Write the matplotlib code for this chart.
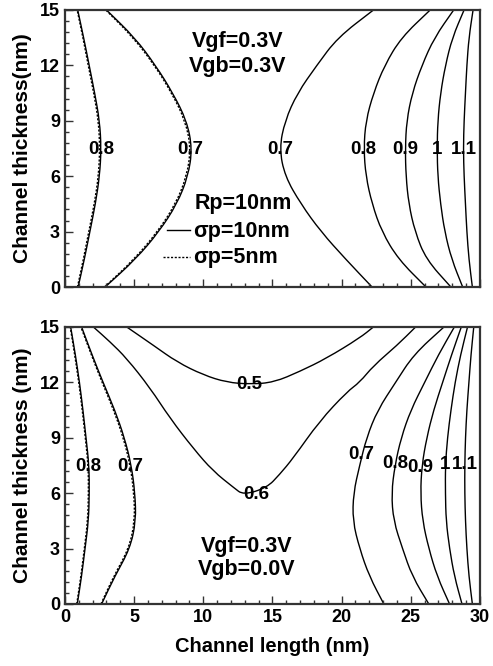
import matplotlib
matplotlib.use("Agg")
import matplotlib.pyplot as plt
from matplotlib.path import Path
from matplotlib.patches import PathPatch

plt.rcParams['font.family'] = ['Liberation Sans', 'DejaVu Sans']
plt.rcParams['font.weight'] = 'bold'

# common thickness samples (nm) for the contour lines x(y)
ys = [0, 1.5, 3, 4.5, 6, 7.5, 9, 10.5, 12, 13.5, 15]

# top panel: Vgf=0.3V, Vgb=0.3V  (x positions along channel length)
top_curves = {
    "0.8a": [0.95, 1.4, 1.8, 2.2, 2.5, 2.62, 2.5, 2.15, 1.75, 1.35, 0.92],
    "0.7a": [2.9, 5.1, 6.8, 8.1, 8.9, 9.2, 8.8, 7.8, 6.55, 5.05, 3.0],
    "0.7b": [22.2, 20.3, 18.5, 17.05, 15.9, 15.5, 15.9, 16.8, 18.2, 19.7, 22.3],
    "0.8b": [26.1, 24.1, 22.9, 22.2, 21.75, 21.6, 21.75, 22.3, 23.1, 24.3, 26.4],
    "0.9b": [27.9, 26.1, 25.3, 24.85, 24.65, 24.6, 24.7, 25.1, 25.8, 26.7, 28.1],
    "1b": [28.75, 27.95, 27.45, 27.15, 26.95, 26.9, 26.95, 27.15, 27.5, 28.0, 28.85],
    "1.1b": [29.45, 29.2, 29.05, 28.95, 28.85, 28.8, 28.85, 28.95, 29.05, 29.2, 29.5],
}
# sigma_p = 5nm (dotted), only visibly different on the left
top_dotted = {
    "0.8a": [0.9, 1.33, 1.72, 2.12, 2.42, 2.52, 2.42, 2.08, 1.68, 1.3, 0.88],
    "0.7a": [2.85, 5.0, 6.7, 8.0, 8.8, 9.1, 8.7, 7.72, 6.48, 4.95, 2.95],
}
top_labels = ["0.8", "0.7", "0.7", "0.8", "0.9", "1", "1.1"]
top_label_x = [2.6, 9.07, 15.55, 21.6, 24.6, 26.9, 28.8]
top_label_y = [7.47] * 7

# bottom panel: Vgf=0.3V, Vgb=0.0V
bot_curves = {
    "0.8a": [0.89, 1.2, 1.45, 1.7, 1.76, 1.74, 1.52, 1.3, 1.05, 0.75, 0.41],
    "0.7a": [2.65, 3.6, 4.7, 5.13, 5.06, 4.8, 4.3, 3.6, 2.75, 1.95, 1.2],
    "0.7b": [23.05, 22.0, 21.3, 20.8, 20.85, 21.3, 21.8, 22.6, 23.9, 25.2, 27.4],
    "0.8b": [26.3, 25.1, 24.4, 23.75, 23.6, 23.85, 24.3, 25.0, 26.0, 27.0, 28.15],
    "0.9b": [27.8, 26.9, 26.3, 25.85, 25.7, 25.8, 26.15, 26.65, 27.3, 27.95, 28.65],
    "1b": [28.7, 28.15, 27.8, 27.55, 27.5, 27.5, 27.65, 27.9, 28.2, 28.6, 29.1],
    "1.1b": [29.45, 29.2, 29.05, 28.95, 28.9, 28.9, 28.95, 29.05, 29.2, 29.35, 29.55],
}
bot_dotted = {
    "0.8a": [0.85, 1.15, 1.4, 1.64, 1.7, 1.68, 1.47, 1.25, 1.0, 0.7, 0.38],
    "0.7a": [2.6, 3.52, 4.62, 5.05, 4.98, 4.72, 4.22, 3.52, 2.68, 1.9, 1.15],
}
# the two U-shaped contours (x, y pairs)
b05_x = [4.46, 6.4, 8.1, 10.0, 11.7, 13.4, 15.1, 17.0, 18.9, 21.3, 22.3]
b05_y = [15, 14.0, 13.1, 12.4, 12.0, 11.9, 12.0, 12.6, 13.3, 14.4, 15]
b06_x = [2.05, 3.25, 4.46, 6.15, 7.6, 9.3, 10.7, 12.2, 12.9, 14.6, 15.5, 16.5,
         18.4, 20.4, 21.3, 22.3, 24.0, 25.35]
b06_y = [15, 14.2, 13.3, 11.7, 10.05, 8.4, 7.2, 6.3, 5.9, 6.3, 7.0, 7.9,
         9.9, 11.5, 12.0, 12.9, 14.0, 15]
bot_labels = ["0.8", "0.7", "0.5", "0.6", "0.7", "0.8", "0.9", "1", "1.1"]
bot_label_x = [1.66, 4.7, 13.3, 13.8, 21.45, 23.9, 25.7, 27.5, 28.9]
bot_label_y = [7.47, 7.47, 11.9, 5.95, 8.1, 7.6, 7.4, 7.55, 7.55]

fig = plt.figure(figsize=(4.93, 6.66), dpi=100)
ax1 = fig.add_axes([0.1318, 0.569, 0.8418, 0.416])
ax2 = fig.add_axes([0.1318, 0.0931, 0.8418, 0.416])


def curve(ax, xs, yv, ls='-'):
    # smooth line through the read points (quadratic segments between midpoints)
    pts = list(zip(xs, yv))
    verts = [pts[0], ((pts[0][0] + pts[1][0]) / 2, (pts[0][1] + pts[1][1]) / 2)]
    codes = [Path.MOVETO, Path.LINETO]
    for i in range(1, len(pts) - 1):
        nxt = pts[i + 1]
        verts += [pts[i], ((pts[i][0] + nxt[0]) / 2, (pts[i][1] + nxt[1]) / 2)]
        codes += [Path.CURVE3, Path.CURVE3]
    verts.append(pts[-1])
    codes.append(Path.LINETO)
    ax.add_patch(PathPatch(Path(verts, codes), fill=False, edgecolor='black',
                           lw=1.0, linestyle=ls, capstyle='butt'))


def style_axes(ax, show_xlabels):
    ax.set_xlim(0, 30)
    ax.set_ylim(0, 15)
    ax.set_xticks([0, 5, 10, 15, 20, 25, 30])
    ax.set_xticks([i for i in range(31)], minor=True)
    ax.set_yticks([0, 3, 6, 9, 12, 15])
    ax.set_yticks([i * 0.6 for i in range(26)], minor=True)
    ax.tick_params(which='both', direction='in', top=False, right=False,
                   width=1, color='#333333')
    ax.tick_params(which='major', length=6, labelsize=13)
    ax.tick_params(which='minor', length=3)
    if not show_xlabels:
        ax.tick_params(axis='x', labelbottom=False)
    for s in ax.spines.values():
        s.set_linewidth(1.6)
        s.set_color('#333333')
    for lab in ax.get_xticklabels() + ax.get_yticklabels():
        lab.set_fontweight('bold')


dotted = (0, (1.5, 1.2))

# top panel
for key, xs in top_curves.items():
    curve(ax1, xs, ys)
for key, xs in top_dotted.items():
    curve(ax1, xs, ys, dotted)
for t, x, y in zip(top_labels, top_label_x, top_label_y):
    ax1.text(x, y, t, ha='center', va='center', fontsize=13.5, fontweight='bold')
ax1.text(12.5, 13.0, "Vgf=0.3V", ha='center', va='baseline', fontsize=15.5, fontweight='bold')
ax1.text(12.5, 11.66, "Vgb=0.3V", ha='center', va='baseline', fontsize=15.5, fontweight='bold')
ax1.text(9.4, 4.22, "Rp=10nm", ha='left', va='baseline', fontsize=15.5, fontweight='bold')
ax1.plot([7.35, 9.04], [3.09, 3.09], color='black', lw=1.0)
ax1.text(9.28, 2.72, "σp=10nm", ha='left', va='baseline', fontsize=15.5, fontweight='bold')
ax1.plot([7.1, 9.04], [1.64, 1.64], color='black', lw=1.0, ls=dotted)
ax1.text(9.28, 1.28, "σp=5nm", ha='left', va='baseline', fontsize=15.5, fontweight='bold')
ax1.set_ylabel("Channel thickness(nm)", fontsize=15, fontweight='bold', labelpad=6)
style_axes(ax1, False)

# bottom panel
for key, xs in bot_curves.items():
    curve(ax2, xs, ys)
for key, xs in bot_dotted.items():
    curve(ax2, xs, ys, dotted)
curve(ax2, b05_x, b05_y)
curve(ax2, b06_x, b06_y)
for t, x, y in zip(bot_labels, bot_label_x, bot_label_y):
    ax2.text(x, y, t, ha='center', va='center', fontsize=13.5, fontweight='bold')
ax2.text(13.1, 2.83, "Vgf=0.3V", ha='center', va='baseline', fontsize=15.5, fontweight='bold')
ax2.text(13.1, 1.57, "Vgb=0.0V", ha='center', va='baseline', fontsize=15.5, fontweight='bold')
ax2.set_ylabel("Channel thickness (nm)", fontsize=15, fontweight='bold', labelpad=6)
ax2.set_xlabel("Channel length (nm)", fontsize=14.5, fontweight='bold', labelpad=8)
style_axes(ax2, True)

fig.savefig("out.png", dpi=100)
